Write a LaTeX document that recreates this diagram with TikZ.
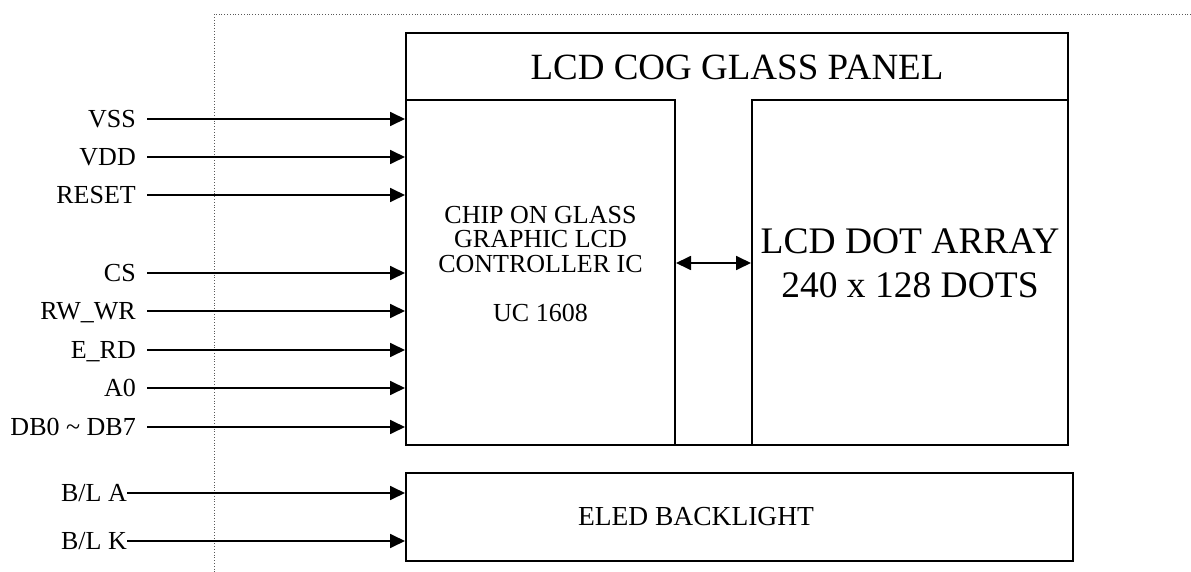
\documentclass[tikz,border=0pt]{standalone}
\usepackage{fontspec}
\setmainfont{Liberation Serif}
\usetikzlibrary{arrows.meta}

\begin{document}
\begin{tikzpicture}[x=1pt,y=-1pt]

                \tikzset{block/.style = {shape=rectangle,draw,line width=2pt,inner sep=0pt}}
                \tikzset{pin/.style = {anchor=east,inner sep=0pt,text height=17pt,text depth=0pt,font=\fontsize{26}{30}\selectfont}}
                \tikzset{edge/.style = {-{Triangle[length=15pt,width=14pt]},line width=1.8pt}}
                \tikzset{frame/.style = {dotted,line width=0.8pt,gray!70!black}}

                \useasboundingbox (0,0) rectangle (1191,572);
                \draw[frame] (1191,14) -- (214,14) -- (214,572);

                \node[block,minimum width=662pt,minimum height=412pt] (panel) at (737,239) {};
                \node[block,minimum width=269pt,minimum height=345pt] (chip) at (540.5,272.5) {};
                \node[block,minimum width=316pt,minimum height=345pt] (dotarr) at (910,272.5) {};
                \node[block,minimum width=667pt,minimum height=88pt] (backlight) at (739.5,517) {};

                \node[font=\fontsize{37}{44}\selectfont] (paneltitle) at (737,67) {LCD COG GLASS PANEL};
                \node[align=center,font=\fontsize{26}{24.5}\selectfont] (chiptext) at (540.5,264)
                    {CHIP ON GLASS\\GRAPHIC LCD\\CONTROLLER IC\\[24.5pt]UC 1608};
                \node[align=center,font=\fontsize{37.5}{44}\selectfont] (dottext) at (910,263)
                    {LCD DOT ARRAY\\240 x 128 DOTS};
                \node[font=\fontsize{27.5}{32}\selectfont] (bltext) at (696,517) {ELED BACKLIGHT};

                \node[pin] (vss) at (136,119) {VSS};
                \node[pin] (vdd) at (136,157) {VDD};
                \node[pin] (reset) at (136,195) {RESET};
                \node[pin] (cs) at (136,273) {CS};
                \node[pin] (rw) at (136,311) {RW\_WR};
                \node[pin] (erd) at (136,350) {E\_RD};
                \node[pin] (a0) at (136,388) {A0};
                \node[pin] (db) at (136,427) {DB0 \textasciitilde{} DB7};
                \node[pin] (bla) at (127,493) {B/L A};
                \node[pin] (blk) at (127,541) {B/L K};

                \draw[edge] ([xshift=11pt]vss.east) to (vss -| chip.west);
                \draw[edge] ([xshift=11pt]vdd.east) to (vdd -| chip.west);
                \draw[edge] ([xshift=11pt]reset.east) to (reset -| chip.west);
                \draw[edge] ([xshift=11pt]cs.east) to (cs -| chip.west);
                \draw[edge] ([xshift=11pt]rw.east) to (rw -| chip.west);
                \draw[edge] ([xshift=11pt]erd.east) to (erd -| chip.west);
                \draw[edge] ([xshift=11pt]a0.east) to (a0 -| chip.west);
                \draw[edge] ([xshift=11pt]db.east) to (db -| chip.west);
                \draw[edge] (bla.east) to (bla -| backlight.west);
                \draw[edge] (blk.east) to (blk -| backlight.west);
                \draw[edge,{Triangle[length=15pt,width=14pt]}-{Triangle[length=15pt,width=14pt]}] ([yshift=9.5pt]chip.east) to ([yshift=9.5pt]dotarr.west);

            \end{tikzpicture}
\end{document}
